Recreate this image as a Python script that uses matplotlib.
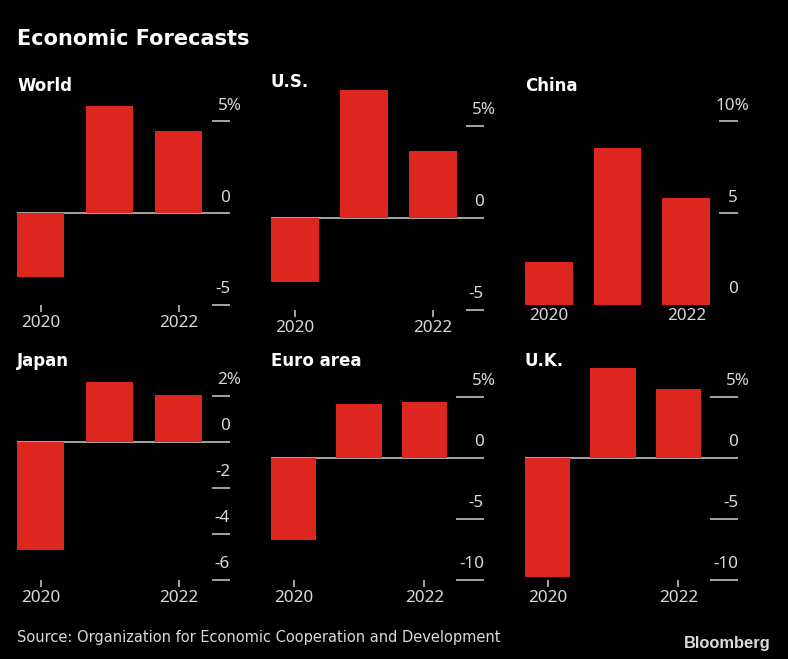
import matplotlib
matplotlib.use("Agg")
import matplotlib.pyplot as plt

W, H = 788, 659
YEARS = [2020, 2021, 2022]
YEAR_TICKS = [2020, 2022]
YEAR_LABELS = ["2020", "2022"]

panel_names = ["World", "U.S.", "China", "Japan", "Euro area", "U.K."]

world_values = [-3.5, 5.83, 4.44]
us_values = [-3.5, 6.94, 3.64]
china_values = [2.32, 8.52, 5.82]
japan_values = [-4.7, 2.6, 2.03]
euro_values = [-6.75, 4.43, 4.54]
uk_values = [-9.8, 7.33, 5.6]

world_ticks = [5, 0, -5]
us_ticks = [5, 0, -5]
china_ticks = [10, 5, 0]
japan_ticks = [2, 0, -2, -4, -6]
euro_ticks = [5, 0, -5, -10]
uk_ticks = [5, 0, -5, -10]

world_labels = ["5%", "0", "-5"]
us_labels = ["5%", "0", "-5"]
china_labels = ["10%", "5", "0"]
japan_labels = ["2%", "0", "-2", "-4", "-6"]
euro_labels = ["5%", "0", "-5", "-10"]
uk_labels = ["5%", "0", "-5", "-10"]

BG = "#000000"
RED = "#dd2620"
TXT = "#d9d9d9"
LINE = "#d6d6d6"
FONT = "Noto Sans"
TITLE_FONT = "DejaVu Sans"

fig = plt.figure(figsize=(W / 100, H / 100), dpi=100, facecolor=BG)
px = 72 / 100  # points per pixel


def panel(name, values, ticks, labels, left, right, zero_px, unit, step, width,
          top_px, title_base, tick_len, has_axis=True):
    low = min(ticks)
    bottom_px = zero_px - low * unit
    ax = fig.add_axes([left / W, 1 - bottom_px / H, (right - left) / W, (bottom_px - top_px) / H])
    ax.set_facecolor("none")
    ax.patch.set_alpha(0)
    for s in ax.spines.values():
        s.set_visible(False)
    x0 = YEARS[0] - width / 2 / step
    ax.set_xlim(x0, x0 + (right - left) / step)
    ax.set_ylim(low, (zero_px - top_px) / unit)
    if has_axis:
        ax.axhline(0, color=LINE, lw=1.5 * px, zorder=1)
    ax.bar(YEARS, values, width=width / step, color=RED, zorder=2)
    ax.set_xticks(YEAR_TICKS)
    ax.set_xticklabels(YEAR_LABELS, fontfamily=FONT, fontsize=12.3, color=TXT)
    ax.tick_params(axis="x", length=(7 * px if has_axis else 0), width=1.5 * px, color=LINE,
                   pad=3.5 * px, labelcolor=TXT)
    ax.yaxis.tick_right()
    visible = [t for t in ticks if t != 0 and not (not has_axis and t == low)]
    ax.set_yticks(visible)
    ax.tick_params(axis="y", direction="in", length=tick_len * px, width=1.5 * px, color=LINE,
                   labelright=False)
    tf = ax.get_yaxis_transform()
    for t, lab in zip(ticks, labels):
        dx = 11.5 * px if lab.endswith("%") else 0
        ax.annotate(lab, xy=(1, t), xycoords=tf, xytext=(dx, 11.5 * px),
                    textcoords="offset points", ha="right", va="baseline",
                    fontfamily=FONT, fontsize=12.3, color=TXT, annotation_clip=False)
    fig.text(left / W, 1 - title_base / H, name, fontfamily=TITLE_FONT, fontweight="bold",
             fontsize=12, color="#ffffff", va="baseline", ha="left")
    return ax


panel(panel_names[0], world_values, world_ticks, world_labels, 17, 230, 213, 18.4, 69, 47, 95, 91, 18)
panel(panel_names[1], us_values, us_ticks, us_labels, 271, 484, 217.7, 18.4, 69, 47.7, 85, 87, 18)
panel(panel_names[2], china_values, china_ticks, china_labels, 525, 738, 305, 18.4, 68.7, 47.7, 95, 91, 19, has_axis=False)
panel(panel_names[3], japan_values, japan_ticks, japan_labels, 17, 230, 441.7, 23, 69, 47, 370, 366, 18)
panel(panel_names[4], euro_values, euro_ticks, euro_labels, 271, 484, 457.7, 12.2, 65.4, 45.3, 370, 366, 28)
panel(panel_names[5], uk_values, uk_ticks, uk_labels, 525, 738, 457.7, 12.2, 65.4, 45.3, 360, 366, 28)

fig.text(17 / W, 1 - 45 / H, "Economic Forecasts", fontfamily=TITLE_FONT, fontweight="bold",
         fontsize=15, color="#ffffff", va="baseline", ha="left")
fig.text(17 / W, 1 - 642 / H, "Source: Organization for Economic Cooperation and Development",
         fontfamily="DejaVu Sans", fontsize=10.5, color=TXT, va="baseline", ha="left")
fig.text(771 / W, 1 - 648 / H, "Bloomberg", fontfamily="Liberation Sans", fontweight="bold",
         fontsize=11.9, color="#dcdcdc", va="baseline", ha="right")

fig.savefig("out.png", dpi=100, facecolor=BG)
